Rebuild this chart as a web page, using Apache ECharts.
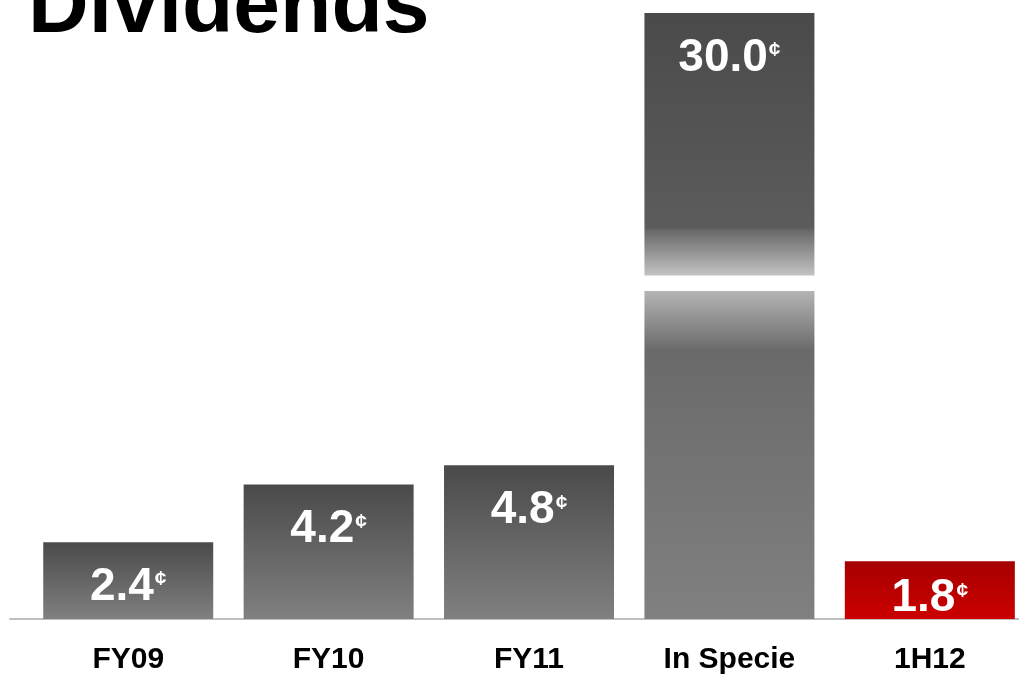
<!DOCTYPE html>
<html>
<head>
<meta charset="utf-8">
<title>Dividends</title>
<script src="https://cdn.jsdelivr.net/npm/echarts@6/dist/echarts.min.js"></script>
<style>
  html, body { margin: 0; padding: 0; background: #ffffff; }
  #chart { width: 1019px; height: 674px; }
</style>
</head>
<body>
<div id="chart"></div>
<script>
// Dividend per share, cents
const categories = ['FY09', 'FY10', 'FY11', 'In Specie', '1H12'];
const dividends = [2.4, 4.2, 4.8, 30.0, 1.8];
// index of the interim (current-period) dividend, highlighted in red
const highlightIndex = 4;
// value range squeezed out of the axis so the in-specie bar fits
const axisBreak = { start: 10.25, end: 21.8 };

const FONT = '"Liberation Sans", Arial, Helvetica, sans-serif';

function vGrad(stops) {
  return new echarts.graphic.LinearGradient(0, 0, 0, 1,
    stops.map(s => ({ offset: s[0], color: s[1] })));
}

const greyFill = vGrad([[0, '#4a4a4a'], [1, '#808080']]);
const redFill = vGrad([[0, '#a60000'], [1, '#cc0000']]);
// tall bar: fades out towards the break and back in below it
const brokenFill = vGrad([
  [0, '#4a4a4a'], [0.355, '#5c5c5c'], [0.357, '#666666'],
  [0.434, '#c4c4c4'], [0.4345, '#ffffff'], [0.459, '#ffffff'],
  [0.4595, '#b4b4b4'], [0.557, '#6a6a6a'], [1, '#808080']
]);

const seriesData = dividends.map((v, i) => {
  let fill = greyFill;
  if (i === highlightIndex) fill = redFill;
  else if (v > axisBreak.end) fill = brokenFill;
  return {
    value: [i, v],
    itemStyle: { color: fill },
    label: { distance: v < 2 ? 14 : 22 }
  };
});

const chart = echarts.init(document.getElementById('chart'), null, { renderer: 'canvas' });

chart.setOption({
  backgroundColor: '#ffffff',
  animation: false,
  title: {
    text: 'Dividends',
    left: 23,
    top: -38,
    textStyle: { fontFamily: FONT, fontSize: 84, fontWeight: 'bold', color: '#000000', lineHeight: 84 }
  },
  grid: { left: 10, right: 0, top: 13, bottom: 55, containLabel: false, outerBoundsMode: 'none' },
  xAxis: {
    type: 'value',
    min: -0.59,
    max: 4.445,
    splitLine: { show: false },
    axisTick: { show: false },
    axisLine: { show: true, lineStyle: { color: '#bfbfbf', width: 2 } },
    axisLabel: {
      customValues: categories.map((c, i) => i),
      formatter: v => categories[Math.round(v)] || '',
      margin: 26,
      fontFamily: FONT,
      fontSize: 30,
      lineHeight: 30,
      fontWeight: 'bold',
      color: '#000000'
    }
  },
  yAxis: {
    type: 'value',
    min: 0,
    max: 30,
    show: true,
    axisLine: { show: false },
    axisTick: { show: false },
    axisLabel: { show: false },
    splitLine: { show: false },
    breaks: [{ start: axisBreak.start, end: axisBreak.end, gap: '2.5%' }],
    breakArea: {
      show: true,
      expandOnClick: false,
      zigzagAmplitude: 0,
      itemStyle: { color: '#ffffff', borderWidth: 0, borderColor: '#ffffff', opacity: 1 }
    }
  },
  series: [{
    type: 'bar',
    barWidth: 170,
    data: seriesData,
    label: {
      show: true,
      position: 'insideTop',
      formatter: p => '{v|' + p.value[1].toFixed(1) + '}{c|¢}',
      rich: {
        v: { fontFamily: FONT, fontSize: 46, fontWeight: 'bold', color: '#ffffff', lineHeight: 46 },
        c: { fontFamily: FONT, fontSize: 21, fontWeight: 'bold', color: '#ffffff', verticalAlign: 'top', lineHeight: 21, padding: [5, 0, 0, 1] }
      }
    }
  }]
});
</script>
</body>
</html>
